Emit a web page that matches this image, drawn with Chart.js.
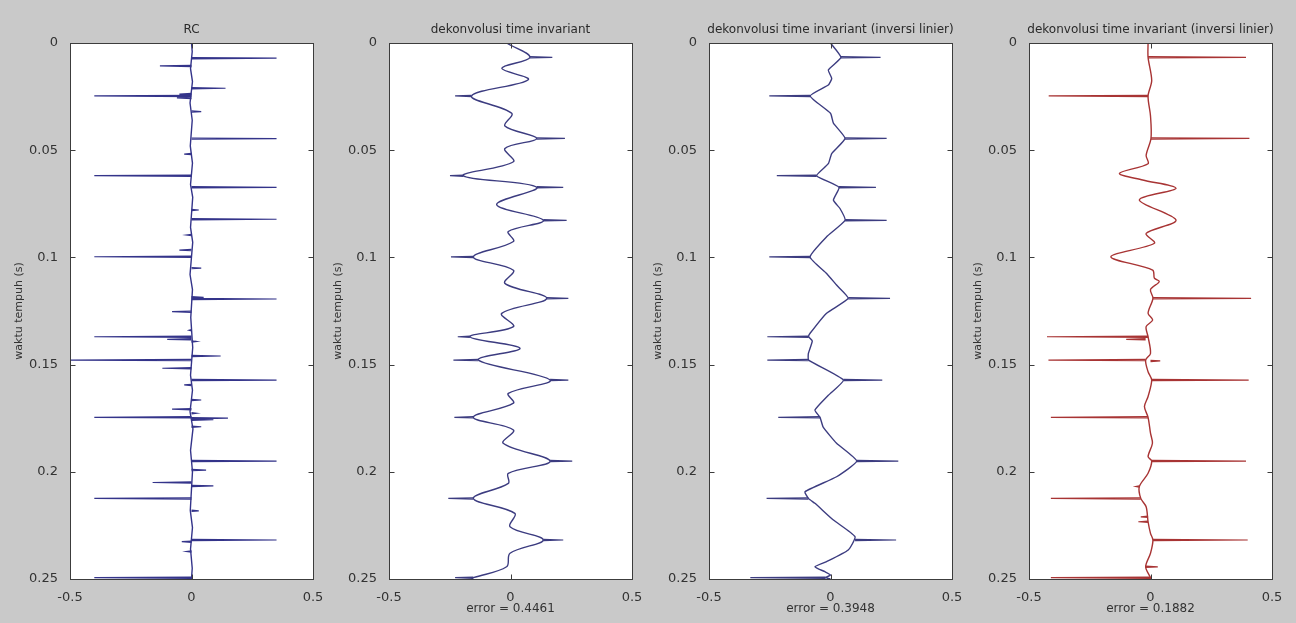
<!DOCTYPE html>
<html>
<head>
<meta charset="utf-8">
<script src="https://cdn.jsdelivr.net/npm/chart.js@4.4.1/dist/chart.umd.min.js"></script>
<style>
  html, body { margin: 0; padding: 0; background: #c9c9c9; overflow: hidden; }
  canvas { position: absolute; top: 0; }
</style>
</head>
<body>
<canvas id="p1" width="329" height="623" style="left:0px"></canvas>
<canvas id="p2" width="329" height="623" style="left:319px"></canvas>
<canvas id="p3" width="329" height="623" style="left:639px"></canvas>
<canvas id="p4" width="329" height="623" style="left:959px"></canvas>
<script>
// axis ticks
var yTickValues = [0, 0.05, 0.1, 0.15, 0.2, 0.25];
var yTickLabels = ['0', '0.05', '0.1', '0.15', '0.2', '0.25'];
var xTickValues = [-0.5, 0, 0.5];
var xTickLabels = ['-0.5', '0', '0.5'];

var panelTitles = ['RC', 'dekonvolusi time invariant', 'dekonvolusi time invariant (inversi linier)', 'dekonvolusi time invariant (inversi linier)'];
var errorLabels = ['', 'error = 0.4461', 'error = 0.3948', 'error = 0.1882'];
var yLabel = 'waktu tempuh (s)';

// trace: [time, amplitude]
var rcTrace = [[0,0],[0.004,0.003],[0.012,-0.004],[0.018,0.004],[0.028,-0.006],[0.036,0.003],[0.048,-0.005],[0.056,0.004],
  [0.066,-0.004],[0.072,0.005],[0.086,-0.004],[0.093,0.005],[0.108,-0.006],[0.115,0.004],[0.128,-0.003],[0.142,0.005],
  [0.155,-0.004],[0.162,0.004],[0.172,-0.006],[0.18,0.006],[0.19,-0.004],[0.2,0.004],[0.218,-0.005],[0.226,0.004],
  [0.236,-0.004],[0.245,0.003],[0.25,0]];
// spikes: [time, base, tip]
var rcSpikes = [[0.0071,0,0.35],[0.0107,0,-0.13],[0.0211,0,0.14],[0.0238,0,-0.05],[0.0247,0,-0.40],[0.0256,0,-0.06],
  [0.0320,0,0.04],[0.0446,0,0.35],[0.0518,0,-0.03],[0.0619,0,-0.40],[0.0673,0,0.35],[0.0779,0,0.03],[0.0822,0,0.35],
  [0.0896,0,-0.02],[0.0966,0,-0.05],[0.0997,0,-0.40],[0.1050,0,0.04],[0.1186,0,0.05],[0.1194,0,0.35],[0.1253,0,-0.08],
  [0.1340,0,-0.01],[0.1370,0,-0.40],[0.1382,0,-0.10],[0.1392,0,0.02],[0.1460,0,0.12],[0.1479,0,-0.52],[0.1517,0,-0.12],
  [0.1572,0,0.35],[0.1595,0,-0.03],[0.1665,0,0.04],[0.1708,0,-0.08],[0.1727,0,0.02],[0.1746,0,-0.40],[0.1750,0,0.15],
  [0.1757,0,0.09],[0.1790,0,0.04],[0.1950,0,0.35],[0.1992,0,0.06],[0.2050,0,-0.16],[0.2066,0,0.09],[0.2124,0,-0.40],
  [0.2182,0,0.03],[0.2318,0,0.35],[0.2326,0,-0.04],[0.2372,0,-0.02],[0.2494,0,-0.40]];

var invTrace = [[0,-0.016],[0.0067,0.08],[0.0118,-0.036],[0.0171,0.073],[0.0247,-0.16],[0.0328,0.005],[0.0387,-0.023],
  [0.0445,0.108],[0.0492,-0.023],[0.0554,0.012],[0.0619,-0.194],[0.0673,0.108],[0.0754,-0.057],[0.0827,0.135],
  [0.0879,-0.009],[0.0926,0.012],[0.0998,-0.153],[0.106,0.012],[0.1121,-0.023],[0.1191,0.149],[0.1261,-0.036],
  [0.1323,0.012],[0.137,-0.167],[0.1424,0.039],[0.1479,-0.132],[0.1572,0.163],[0.1634,-0.009],[0.168,0.012],
  [0.1746,-0.153],[0.1805,0.012],[0.1867,-0.03],[0.195,0.163],[0.2007,-0.009],[0.2054,-0.009],[0.2124,-0.153],
  [0.2194,0.018],[0.2256,-0.002],[0.2318,0.135],[0.238,-0.002],[0.2443,-0.016],[0.2494,-0.153],[0.25,-0.16]];
var invSpikes = [[0.0067,0.08,0.172],[0.0247,-0.16,-0.228],[0.0445,0.108,0.224],[0.0619,-0.194,-0.249],
  [0.0673,0.108,0.217],[0.0827,0.135,0.231],[0.0998,-0.153,-0.245],[0.1191,0.149,0.238],[0.137,-0.167,-0.217],
  [0.1479,-0.132,-0.235],[0.1572,0.163,0.238],[0.1746,-0.153,-0.231],[0.195,0.163,0.254],[0.2124,-0.153,-0.256],
  [0.2318,0.135,0.217],[0.2494,-0.153,-0.228]];

var linTrace = [[0,0],[0.0067,0.043],[0.0126,-0.009],[0.0165,0.005],[0.0196,-0.009],[0.0247,-0.084],[0.0328,0],
  [0.0374,0.012],[0.0445,0.06],[0.0516,0.005],[0.0563,-0.009],[0.0619,-0.057],[0.0673,0.035],[0.0733,0.012],
  [0.0772,0.039],[0.0827,0.06],[0.0904,-0.016],[0.0998,-0.084],[0.1075,-0.016],[0.1129,0.025],[0.1191,0.073],
  [0.126,-0.016],[0.1354,-0.084],[0.137,-0.09],[0.139,-0.075],[0.1448,-0.091],[0.1479,-0.09],[0.1572,0.053],
  [0.1643,-0.009],[0.1712,-0.064],[0.1746,-0.043],[0.1792,-0.03],[0.1867,0.025],[0.195,0.108],[0.2023,0.025],
  [0.2093,-0.105],[0.2124,-0.091],[0.2147,-0.064],[0.2225,0.012],[0.2303,0.101],[0.2365,0.073],[0.2419,-0.016],
  [0.2443,-0.064],[0.2466,-0.023],[0.2481,0],[0.2494,-0.02],[0.25,0]];
var linSpikes = [[0.0067,0.043,0.206],[0.0247,-0.084,-0.252],[0.0445,0.06,0.231],[0.0619,-0.057,-0.221],
  [0.0673,0.035,0.187],[0.0827,0.06,0.231],[0.0998,-0.084,-0.252],[0.1191,0.073,0.245],[0.137,-0.09,-0.26],
  [0.1479,-0.09,-0.26],[0.1572,0.053,0.213],[0.1746,-0.043,-0.215],[0.195,0.108,0.279],[0.2124,-0.091,-0.263],
  [0.2318,0.101,0.27],[0.2494,-0.02,-0.33]];

var redTrace = [[0,-0.01],[0.0067,-0.01],[0.0175,0.005],[0.0247,-0.01],[0.034,0],[0.0445,0.002],[0.0524,-0.018],
  [0.0563,-0.01],[0.0608,-0.128],[0.0639,-0.032],[0.0678,0.105],[0.0732,-0.046],[0.0826,0.105],[0.0888,-0.018],
  [0.0934,0.016],[0.0997,-0.163],[0.1059,0.009],[0.1097,0.016],[0.1113,0.036],[0.115,0],[0.1191,0.01],[0.1261,-0.01],
  [0.1292,0.009],[0.1323,-0.018],[0.137,-0.01],[0.1448,0],[0.1479,-0.02],[0.1533,-0.01],[0.1572,0.005],[0.1649,-0.01],
  [0.1696,-0.025],[0.1746,-0.01],[0.182,0],[0.1867,0.008],[0.1929,-0.01],[0.195,0.005],[0.2007,-0.01],[0.2069,-0.046],
  [0.2124,-0.04],[0.2163,-0.018],[0.2233,-0.01],[0.2287,0],[0.2318,0.01],[0.238,0],[0.2443,-0.02],[0.2494,0],[0.25,0]];
var redSpikes = [[0.0067,-0.01,0.393],[0.0247,-0.01,-0.419],[0.0445,0.002,0.407],[0.1191,0.01,0.414],
  [0.137,-0.01,-0.426],[0.1382,-0.02,-0.1],[0.1479,-0.02,-0.42],[0.1483,0,0.04],[0.1572,0.005,0.404],
  [0.1746,-0.01,-0.41],[0.195,0.005,0.393],[0.2069,-0.046,-0.06],[0.2124,-0.04,-0.41],[0.221,-0.01,-0.04],
  [0.2233,-0.01,-0.05],[0.2318,0.01,0.40],[0.2443,-0.02,0.03],[0.2494,0,-0.41]];

var SPIKE_HALF = 0.0003;

function traceData(rows) {
  return rows.map(function (r) { return {x: r[1], y: r[0]}; });
}
function spikeData(rows) {
  var out = [];
  rows.forEach(function (r) {
    out.push({x: r[1], y: r[0] - SPIKE_HALF}, {x: r[2], y: r[0]}, {x: r[1], y: r[0] + SPIKE_HALF}, {x: null, y: null});
  });
  return out;
}

// white axes box, inward ticks and the panel title (matlab look)
var matlabFrame = {
  id: 'matlabFrame',
  beforeDraw: function (chart) {
    var a = chart.chartArea, ctx = chart.ctx;
    ctx.save();
    ctx.fillStyle = '#ffffff';
    ctx.fillRect(a.left, a.top, a.right - a.left, a.bottom - a.top);
    ctx.restore();
  },
  afterDraw: function (chart, args, opts) {
    var a = chart.chartArea, ctx = chart.ctx, sx = chart.scales.x, sy = chart.scales.y;
    var L = Math.round(a.left) + 0.5, R = Math.round(a.right) + 0.5, T = Math.round(a.top) + 0.5, B = Math.round(a.bottom) + 0.5;
    ctx.save();
    ctx.strokeStyle = '#3c3c3c';
    ctx.lineWidth = 1;
    ctx.strokeRect(L, T, R - L, B - T);
    ctx.beginPath();
    sy.ticks.forEach(function (t) {
      var y = Math.round(sy.getPixelForValue(t.value)) + 0.5;
      ctx.moveTo(L, y); ctx.lineTo(L + 5, y);
      ctx.moveTo(R, y); ctx.lineTo(R - 5, y);
    });
    sx.ticks.forEach(function (t) {
      var x = Math.round(sx.getPixelForValue(t.value)) + 0.5;
      ctx.moveTo(x, B); ctx.lineTo(x, B - 5);
      ctx.moveTo(x, T); ctx.lineTo(x, T + 5);
    });
    ctx.stroke();
    ctx.fillStyle = '#2a2a2a';
    ctx.font = '12px "DejaVu Sans"';
    ctx.textAlign = 'center';
    ctx.textBaseline = 'middle';
    ctx.fillText(opts.text, (a.left + a.right) / 2, a.top - 13);
    ctx.restore();
  }
};

function makePanel(id, trace, spikes, color, tension, title, err) {
  return new Chart(document.getElementById(id), {
    type: 'scatter',
    data: {
      datasets: [{
        data: spikeData(spikes),
        showLine: true,
        borderColor: color,
        borderWidth: 1.2,
        pointRadius: 0,
        tension: 0
      }, {
        data: traceData(trace),
        showLine: true,
        borderColor: color,
        borderWidth: 1.4,
        pointRadius: 0,
        tension: tension
      }]
    },
    options: {
      responsive: false,
      animation: false,
      events: [],
      layout: { padding: { left: 0, right: 16, top: 43, bottom: 0 } },
      plugins: {
        legend: { display: false },
        tooltip: { enabled: false },
        matlabFrame: { text: title }
      },
      scales: {
        x: {
          type: 'linear',
          min: -0.5,
          max: 0.5,
          grid: { display: false },
          border: { display: false },
          afterFit: function (s) { s.height = 44; },
          afterBuildTicks: function (s) { s.ticks = xTickValues.map(function (v) { return {value: v}; }); },
          ticks: {
            autoSkip: false,
            maxRotation: 0,
            padding: 3,
            color: '#333333',
            font: { family: 'DejaVu Sans', size: 13 },
            callback: function (v, i) { return xTickLabels[i]; }
          },
          title: {
            display: err !== '',
            text: err,
            color: '#333333',
            font: { family: 'DejaVu Sans', size: 12 },
            padding: { top: 0, bottom: 7 }
          }
        },
        y: {
          type: 'linear',
          reverse: true,
          min: 0,
          max: 0.25,
          grid: { display: false },
          border: { display: false },
          afterFit: function (s) { s.width = 70; },
          afterBuildTicks: function (s) { s.ticks = yTickValues.map(function (v) { return {value: v}; }); },
          ticks: {
            autoSkip: false,
            padding: 4,
            color: '#333333',
            font: { family: 'DejaVu Sans', size: 13 },
            callback: function (v, i) { return yTickLabels[i]; }
          },
          title: {
            display: true,
            text: yLabel,
            color: '#333333',
            font: { family: 'DejaVu Sans', size: 11 },
            padding: { top: 13, bottom: 0 }
          }
        }
      }
    },
    plugins: [matlabFrame]
  });
}

makePanel('p1', rcTrace, rcSpikes, '#34348a', 0, panelTitles[0], errorLabels[0]);
makePanel('p2', invTrace, invSpikes, '#3c3c80', 0.35, panelTitles[1], errorLabels[1]);
makePanel('p3', linTrace, linSpikes, '#3c3c80', 0.15, panelTitles[2], errorLabels[2]);
makePanel('p4', redTrace, redSpikes, '#a83434', 0.3, panelTitles[3], errorLabels[3]);
</script>
</body>
</html>
